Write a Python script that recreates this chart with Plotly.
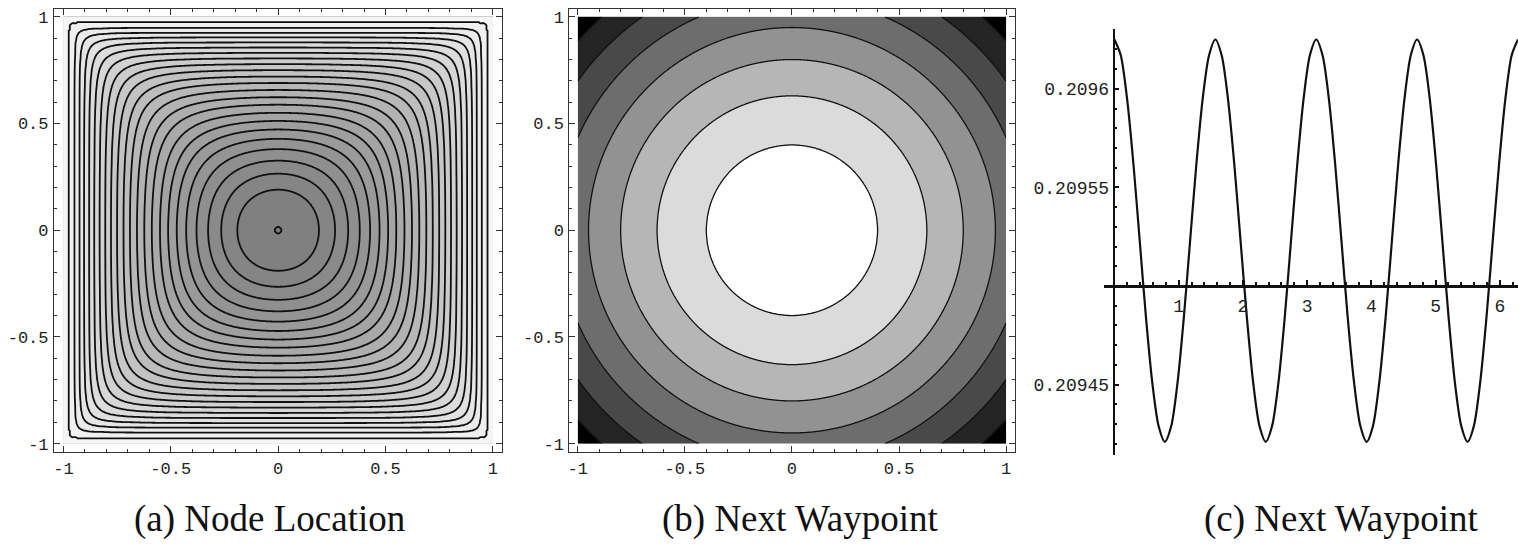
import numpy as np
import plotly.graph_objects as go

W, H = 1518, 549

# (a) Node Location: where each contour ring crosses the positive x axis
ring_radii_a = [0.014, 0.19, 0.265, 0.326, 0.38, 0.428, 0.472, 0.512, 0.55, 0.588,
                0.623, 0.657, 0.69, 0.72, 0.75, 0.778, 0.805, 0.831, 0.856, 0.88,
                0.903, 0.925, 0.947, 0.969]
shade_a = ["#7b7b7b", "#f5f5f5"]          # centre band -> outer band

# (b) Next Waypoint: radii of the circular contours
ring_radii_b = [0.40, 0.63, 0.80, 0.95, 1.09, 1.22, 1.337]
shade_b = ["#ffffff", "#000000"]          # centre disc -> corners

# (c) Next Waypoint: curve (step pi/32)
angle_c = [0.000, 0.098, 0.196, 0.295, 0.393, 0.491, 0.589, 0.687, 0.785, 0.884,
           0.982, 1.080, 1.178, 1.276, 1.374, 1.473, 1.571, 1.669, 1.767, 1.865,
           1.963, 2.062, 2.160, 2.258, 2.356, 2.454, 2.553, 2.651, 2.749, 2.847,
           2.945, 3.043, 3.142, 3.240, 3.338, 3.436, 3.534, 3.632, 3.731, 3.829,
           3.927, 4.025, 4.123, 4.222, 4.320, 4.418, 4.516, 4.614, 4.712, 4.811,
           4.909, 5.007, 5.105, 5.203, 5.301, 5.400, 5.498, 5.596, 5.694, 5.792,
           5.890, 5.989, 6.087, 6.185, 6.283]
value_c = [0.209625, 0.209617, 0.209595, 0.209562, 0.209523, 0.209484, 0.209451, 0.209429,
           0.209421, 0.209429, 0.209451, 0.209484, 0.209523, 0.209562, 0.209595, 0.209617,
           0.209625, 0.209617, 0.209595, 0.209562, 0.209523, 0.209484, 0.209451, 0.209429,
           0.209421, 0.209429, 0.209451, 0.209484, 0.209523, 0.209562, 0.209595, 0.209617,
           0.209625, 0.209617, 0.209595, 0.209562, 0.209523, 0.209484, 0.209451, 0.209429,
           0.209421, 0.209429, 0.209451, 0.209484, 0.209523, 0.209562, 0.209595, 0.209617,
           0.209625, 0.209617, 0.209595, 0.209562, 0.209523, 0.209484, 0.209451, 0.209429,
           0.209421, 0.209429, 0.209451, 0.209484, 0.209523, 0.209562, 0.209595, 0.209617,
           0.209625]
xticks_c = [1, 2, 3, 4, 5, 6]
yticks_c = [0.20945, 0.20955, 0.2096]
ytick_text_c = ["0.20945", "0.20955", "0.2096"]
cross_c = 0.2095                           # level where the x axis crosses

ticks_ab = [-1, -0.5, 0, 0.5, 1]
tick_text_ab = ["-1", "-0.5", "0", "0.5", "1"]
captions = ["(a) Node Location", "(b) Next Waypoint", "(c) Next Waypoint"]
caption_x = [268, 800, 1341]


def dom_x(a, b):
    return [a / W, b / W]


def dom_y(top, bottom):
    return [(H - bottom) / H, (H - top) / H]


grid = np.linspace(-1, 1, 401)
X, Y = np.meshgrid(grid, grid)


def squarish(t):
    t = np.clip(np.abs(t), 0, 0.9995)
    return t ** 2 / (1 - t ** 2) ** 2


# field for (a): value equals the ring index at every listed ring
F = squarish(X) + squarish(Y)
na = len(ring_radii_a)
xp = np.r_[0.0, squarish(np.array(ring_radii_a)), F.max() + 1]
fp = np.r_[-0.5, np.arange(na), na - 0.5]
za = np.round(np.interp(F, xp, fp), 4)

# field for (b)
R = np.hypot(X, Y)
nb = len(ring_radii_b)
zb = np.round(np.interp(R, np.r_[0.0, ring_radii_b, 1.5],
                        np.r_[-1.0, np.arange(nb), nb]), 4)

fig = go.Figure()
fig.add_trace(go.Contour(
    x=grid, y=grid, z=za, xaxis="x", yaxis="y",
    contours=dict(start=0, end=na - 1, size=1, coloring="fill"),
    colorscale=[[0, shade_a[0]], [1, shade_a[1]]], zmin=-0.5, zmax=na - 0.5,
    line=dict(color="#111111", width=1.8), showscale=False, hoverinfo="skip"))
fig.add_trace(go.Contour(
    x=grid, y=grid, z=zb, xaxis="x2", yaxis="y2",
    contours=dict(start=0, end=nb - 1, size=1, coloring="fill"),
    colorscale=[[0, shade_b[0]], [1, shade_b[1]]], zmin=-0.5, zmax=nb - 0.5,
    line=dict(color="#111111", width=1.3), showscale=False, hoverinfo="skip"))
fig.add_trace(go.Scatter(
    x=angle_c, y=value_c, xaxis="x3", yaxis="y3", mode="lines",
    line=dict(color="#111111", width=2.2, shape="spline", smoothing=0.8),
    hoverinfo="skip"))

mono = dict(family="Liberation Mono", size=17, color="#222222")


def frame_axis(dom, half, anchor):
    return dict(domain=dom, range=[-half, half], anchor=anchor,
                showline=True, linecolor="#333333", linewidth=1, mirror="ticks",
                ticks="inside", ticklen=6, tickwidth=1, tickcolor="#333333",
                tickmode="array", tickvals=ticks_ab, ticktext=tick_text_ab,
                tickfont=mono, ticklabelstandoff=1,
                minor=dict(tickmode="linear", tick0=0, dtick=0.1, ticks="inside",
                           ticklen=3, tickcolor="#333333"),
                showgrid=False, zeroline=False)


xr_c = [-0.17, 6.2832]
yr_c = [0.20941406, 0.20963041]
xd_c = dom_x(1103, W)
yd_c = dom_y(29, 458)
x_pos = xd_c[0] + (0 - xr_c[0]) / (xr_c[1] - xr_c[0]) * (xd_c[1] - xd_c[0])
y_pos = yd_c[0] + (cross_c - yr_c[0]) / (yr_c[1] - yr_c[0]) * (yd_c[1] - yd_c[0])

fig.update_layout(
    width=W, height=H, margin=dict(l=0, r=0, t=0, b=0),
    paper_bgcolor="white", plot_bgcolor="white", showlegend=False,
    xaxis=frame_axis(dom_x(52, 501), 1.044, "y"),
    yaxis=frame_axis(dom_y(9, 454), 1.037, "x"),
    xaxis2=frame_axis(dom_x(568, 1014), 1.04, "y2"),
    yaxis2=frame_axis(dom_y(9, 454), 1.037, "x2"),
    xaxis3=dict(domain=xd_c, range=xr_c, anchor="free", position=y_pos, side="bottom",
                showline=True, linecolor="#111111", linewidth=2.5,
                ticks="inside", ticklen=5, tickwidth=1.5, tickcolor="#111111",
                tickmode="array", tickvals=xticks_c,
                tickfont=dict(family="Liberation Mono", size=18, color="#222222"),
                ticklabelstandoff=3,
                minor=dict(tickmode="linear", tick0=0, dtick=0.2, ticks="inside",
                           ticklen=3, tickwidth=1.5, tickcolor="#111111"),
                showgrid=False, zeroline=False),
    yaxis3=dict(domain=yd_c, range=yr_c, anchor="free", position=x_pos, side="left",
                showline=True, linecolor="#111111", linewidth=1.5,
                ticks="inside", ticklen=4, tickwidth=1.5, tickcolor="#111111",
                tickmode="array", tickvals=yticks_c, ticktext=ytick_text_c,
                tickfont=dict(family="Liberation Mono", size=18, color="#222222"),
                ticklabelstandoff=1,
                minor=dict(tickmode="linear", tick0=0.2094, dtick=0.00001, ticks="inside",
                           ticklen=2, tickwidth=1.5, tickcolor="#111111"),
                showgrid=False, zeroline=False),
)

for text, cx in zip(captions, caption_x):
    fig.add_annotation(text=text, x=cx / W, y=(H - 522) / H, xref="paper", yref="paper",
                       showarrow=False, xanchor="center", yanchor="middle",
                       font=dict(family="Liberation Serif", size=37, color="#111111"))

# the page body has a default 8px margin; drop it so the figure fills the window
fig.write_html("out.html", config={"displayModeBar": False},
               post_script="document.body.style.margin='0';")
